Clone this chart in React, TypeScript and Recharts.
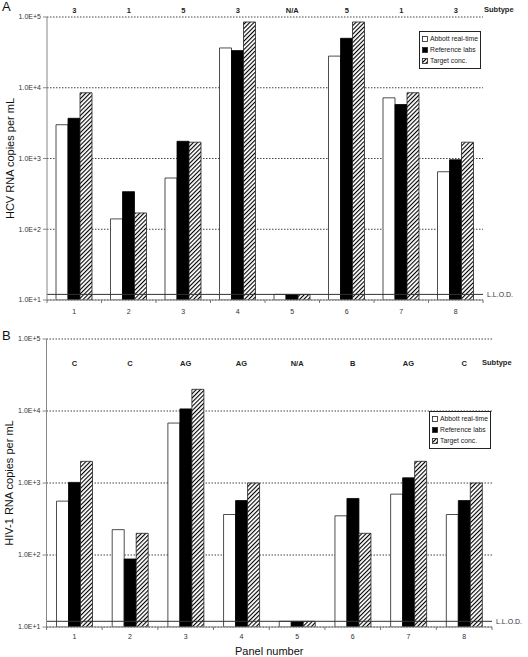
import React from "react";
import { BarChart, Bar, XAxis, YAxis, CartesianGrid, ReferenceLine, Legend, Label } from "recharts";

const FONT = '"Liberation Sans", Arial, sans-serif';

const panels = ["1", "2", "3", "4", "5", "6", "7", "8"];
const yTicks = [10, 100, 1000, 10000, 100000];
const llod = 12;

// A: HCV
const hcvSubtypes = ["3", "1", "5", "3", "N/A", "5", "1", "3"];
const hcvAbbott = [3000, 140, 530, 36500, 12, 28000, 7200, 650];
const hcvReference = [3700, 340, 1750, 33500, 12, 50000, 5800, 960];
const hcvTarget = [8500, 170, 1700, 85000, 12, 85000, 8500, 1700];

// B: HIV-1
const hivSubtypes = ["C", "C", "AG", "AG", "N/A", "B", "AG", "C"];
const hivAbbott = [560, 225, 6800, 365, 12, 350, 700, 365];
const hivReference = [1020, 88, 10700, 570, 12, 610, 1180, 570];
const hivTarget = [2000, 200, 20000, 1000, 12, 200, 2000, 1000];

const rowsOf = (abbott: number[], reference: number[], target: number[], subtypes: string[]) =>
  panels.map((p, i) => ({
    panel: p,
    subtype: subtypes[i],
    abbott: abbott[i],
    reference: reference[i],
    target: target[i],
  }));

const sciLabel = (v: number) => `1.0E+${Math.round(Math.log10(v))}`;

const PanelTick = (props: any) => {
  const { x, y, payload, index, step, dy } = props;
  const last = index === panels.length - 1;
  return (
    <g>
      <line x1={x - step / 2} y1={y} x2={x - step / 2} y2={y + 3} stroke="#777" />
      {last && <line x1={x + step / 2} y1={y} x2={x + step / 2} y2={y + 3} stroke="#777" />}
      <text x={x} y={y + dy} textAnchor="middle" dominantBaseline="central" fontSize={7} fill="#333">
        {payload.value}
      </text>
    </g>
  );
};

const SubtypeTick = (props: any) => {
  const { x, y, payload, dy } = props;
  return (
    <text x={x} y={y + dy} textAnchor="middle" dominantBaseline="central" fontSize={7.5} fontWeight="bold" fill="#222">
      {payload.value}
    </text>
  );
};

const LegendBox = (props: any) => (
  <div
    style={{
      border: "1px solid #222",
      background: "#fff",
      padding: "1px 2px 2px 2px",
      fontSize: 6.8,
      lineHeight: "11px",
      color: "#222",
      fontFamily: FONT,
    }}
  >
    {(props.payload || []).map((e: any) => (
      <div key={e.value} style={{ display: "flex", alignItems: "center", whiteSpace: "nowrap" }}>
        <svg width={6} height={6} style={{ marginRight: 2 }}>
          <rect x={0.5} y={0.5} width={5} height={5} fill={e.color} stroke="#222" strokeWidth={0.8} />
        </svg>
        {e.value}
      </div>
    ))}
  </div>
);

function Panel(p: {
  width: number;
  height: number;
  right: number;
  left: number;
  bottomAxis: number;
  step: number;
  tickDy: number;
  subDy: number;
  yLabel: string;
  rows: any[];
  legendLeft: number;
  legendTop: number;
  xTitle?: string;
}) {
  return (
    <BarChart
      width={p.width}
      height={p.height}
      data={p.rows}
      margin={{ top: 0, right: p.right, bottom: 0, left: p.left }}
      barSize={12}
      barGap={0}
    >
      <CartesianGrid vertical={false} stroke="#444" strokeDasharray="1.5 1.5" />
      <XAxis
        dataKey="panel"
        height={p.bottomAxis}
        axisLine={{ stroke: "#888" }}
        tickLine={false}
        tickSize={0}
        tickMargin={0}
        interval={0}
        tick={<PanelTick step={p.step} dy={p.tickDy} />}
      >
        {p.xTitle && (
          <Label value={p.xTitle} position="insideBottom" offset={2} style={{ fontSize: 11, fill: "#111" }} />
        )}
      </XAxis>
      <XAxis
        xAxisId="sub"
        dataKey="subtype"
        orientation="top"
        height={17}
        axisLine={false}
        tickLine={false}
        tickSize={0}
        tickMargin={0}
        interval={0}
        tick={<SubtypeTick dy={p.subDy} />}
      />
      <YAxis
        scale="log"
        type="number"
        domain={[10, 100000]}
        ticks={yTicks}
        allowDataOverflow
        width={40}
        tickSize={4}
        axisLine={{ stroke: "#888" }}
        tickLine={{ stroke: "#888" }}
        tick={{ fontSize: 7, fill: "#333" }}
        tickFormatter={sciLabel}
        label={{
          value: p.yLabel,
          angle: -90,
          position: "insideLeft",
          offset: 3,
          style: { textAnchor: "middle", fontSize: 11, fill: "#111" },
        }}
      />
      <Legend
        layout="vertical"
        align="center"
        verticalAlign="middle"
        content={<LegendBox />}
        wrapperStyle={{ left: p.legendLeft, top: p.legendTop, width: "auto", height: "auto" }}
      />
      <Bar dataKey="abbott" name="Abbott real-time" fill="#ffffff" stroke="#222" strokeWidth={0.8} isAnimationActive={false} />
      <Bar dataKey="reference" name="Reference labs" fill="#000000" stroke="#000" strokeWidth={0.8} isAnimationActive={false} />
      <Bar dataKey="target" name="Target conc." fill="url(#hatch)" stroke="#222" strokeWidth={0.8} isAnimationActive={false} />
      <ReferenceLine
        y={llod}
        stroke="#333"
        strokeWidth={1}
        label={{ value: "L.L.O.D.", position: "right", offset: 4, fontSize: 7, fill: "#333" }}
      />
    </BarChart>
  );
}

export default function App() {
  const hcvRows = rowsOf(hcvAbbott, hcvReference, hcvTarget, hcvSubtypes);
  const hivRows = rowsOf(hivAbbott, hivReference, hivTarget, hivSubtypes);
  return (
    <div style={{ position: "absolute", left: 0, top: 0, width: 528, height: 657, background: "#fff", fontFamily: FONT }}>
      <svg width={0} height={0} style={{ position: "absolute" }}>
        <defs>
          <pattern id="hatch" width={3} height={3} patternUnits="userSpaceOnUse" patternTransform="rotate(45)">
            <rect width={3} height={3} fill="#fff" />
            <line x1={0} y1={0} x2={0} y2={3} stroke="#000" strokeWidth={2.2} />
          </pattern>
        </defs>
      </svg>

      <div style={{ position: "absolute", left: 0, top: 0 }}>
        <Panel
          width={528}
          height={322}
          left={7}
          right={45}
          bottomAxis={22}
          step={54.5}
          tickDy={11}
          subDy={-7}
          yLabel="HCV RNA copies per mL"
          rows={hcvRows}
          legendLeft={419}
          legendTop={31}
        />
      </div>
      <div style={{ position: "absolute", left: 0, top: 322 }}>
        <Panel
          width={528}
          height={335}
          left={6.5}
          right={36}
          bottomAxis={30}
          step={55.7}
          tickDy={9}
          subDy={24}
          yLabel="HIV-1 RNA copies per mL"
          rows={hivRows}
          legendLeft={429}
          legendTop={89}
          xTitle="Panel number"
        />
      </div>

      <div style={{ position: "absolute", left: 2, top: -1, fontSize: 13, color: "#111" }}>A</div>
      <div style={{ position: "absolute", left: 2, top: 328, fontSize: 13, color: "#111" }}>B</div>
      <div style={{ position: "absolute", left: 484, top: 5, fontSize: 7.5, fontWeight: "bold", color: "#222" }}>Subtype</div>
      <div style={{ position: "absolute", left: 482, top: 358, fontSize: 7.5, fontWeight: "bold", color: "#222" }}>Subtype</div>
    </div>
  );
}
